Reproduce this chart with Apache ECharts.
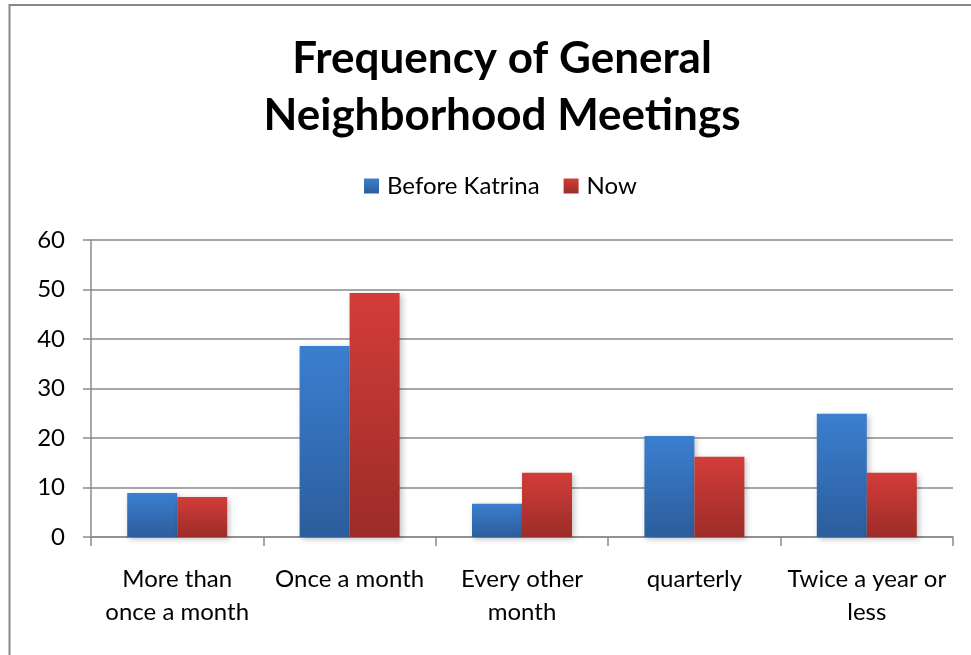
<!DOCTYPE html>
<html><head><meta charset="utf-8">
<script src="https://cdn.jsdelivr.net/npm/echarts@6/dist/echarts.min.js"></script>
<style>html,body{margin:0;padding:0;background:#fff}#c{width:971px;height:655px}</style>
</head><body><div id="c"></div>
<script>
const categories = ['More than\nonce a month', 'Once a month', 'Every other\nmonth', 'quarterly', 'Twice a year or\nless'];
const beforeKatrina = [8.9, 38.6, 6.7, 20.4, 24.9];
const now = [8.1, 49.3, 13.0, 16.2, 13.0];
const yTicks = [0, 10, 20, 30, 40, 50, 60];
const FONT = 'Lato';
function grad(top, bottom){
  return new echarts.graphic.LinearGradient(0,0,0,1,[{offset:0,color:top},{offset:1,color:bottom}]);
}
const chart = echarts.init(document.getElementById('c'));
chart.setOption({
  animation:false,
  backgroundColor:'#fff',
  textStyle:{fontFamily:FONT},
  title:{
    text:'Frequency of General\nNeighborhood Meetings',
    top:25, left:497, textAlign:'center',
    textStyle:{fontFamily:FONT,fontWeight:'bold',fontSize:44,lineHeight:57,color:'#000'}
  },
  graphic:[{type:'rect',shape:{x:9.5,y:5,width:1000,height:700},style:{fill:'none',stroke:'#888',lineWidth:2},silent:true}],
  legend:{
    top:169, left:359,
    itemWidth:15, itemHeight:15, itemGap:24,
    icon:'rect',
    textStyle:{fontFamily:FONT,fontSize:24,color:'#000',padding:[0,0,0,3]},
    data:['Before Katrina','Now']
  },
  grid:{left:91,right:18,top:240,bottom:118},
  xAxis:{
    type:'category', data:categories,
    axisLine:{lineStyle:{color:'#8a8a8a',width:1.5}},
    axisTick:{show:true,length:9,lineStyle:{color:'#8a8a8a',width:1.5}},
    axisLabel:{fontFamily:FONT,fontSize:24,lineHeight:33,color:'#000',margin:26,interval:0}
  },
  yAxis:{
    type:'value', min:yTicks[0], max:yTicks[yTicks.length-1], interval:10,
    axisLine:{show:true,lineStyle:{color:'#8a8a8a',width:1.5}},
    axisTick:{show:true,length:8,lineStyle:{color:'#8a8a8a',width:1.5}},
    splitLine:{lineStyle:{color:'#8a8a8a',width:1.5}},
    axisLabel:{fontFamily:FONT,fontSize:24,color:'#000',margin:26}
  },
  series:[
    {name:'Before Katrina',type:'bar',data:beforeKatrina,barGap:'0%',barCategoryGap:'42%',
     itemStyle:{color:grad('#3b7fd0','#2c5d9c'),shadowColor:'rgba(0,0,0,0.25)',shadowBlur:6,shadowOffsetX:2,shadowOffsetY:2}},
    {name:'Now',type:'bar',data:now,barGap:'0%',barCategoryGap:'42%',
     itemStyle:{color:grad('#d33d38','#9c2c29'),shadowColor:'rgba(0,0,0,0.25)',shadowBlur:6,shadowOffsetX:2,shadowOffsetY:2}}
  ]
});
</script></body></html>
